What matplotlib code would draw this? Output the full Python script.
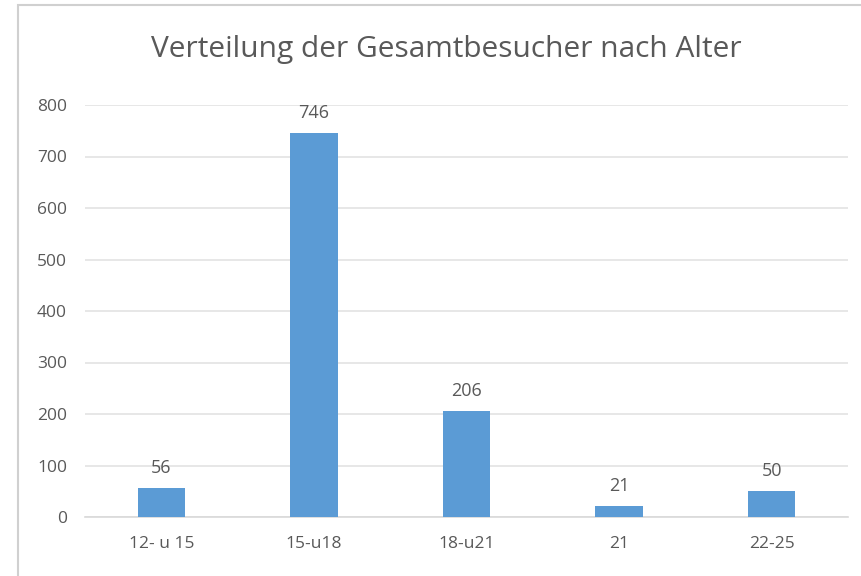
import matplotlib
matplotlib.use("Agg")
import matplotlib.pyplot as plt
from matplotlib.patches import Rectangle

categories = ["12- u 15", "15-u18", "18-u21", "21", "22-25"]
values = [56, 746, 206, 21, 50]
yticks = [0, 100, 200, 300, 400, 500, 600, 700, 800]
title = "Verteilung der Gesamtbesucher nach Alter"

plt.rcParams['font.family'] = ['Open Sans', 'DejaVu Sans']
text_color = "#595959"
bar_color = "#5B9BD5"

W, H = 861, 576
fig = plt.figure(figsize=(W/100, H/100), dpi=100)
fig.patch.set_facecolor("white")

# chart border
fig.add_artist(Rectangle((18/W, -0.01), 1.0, 1 - 5/H + 0.01, transform=fig.transFigure,
                         fill=False, edgecolor="#d0d0d0", linewidth=1.5))

ax = fig.add_axes([85/W, 1 - 517/H, (848-85)/W, (517-105)/H])
x = list(range(len(categories)))
bars = ax.bar(x, values, width=0.31, color=bar_color, zorder=3)
ax.set_xlim(-0.5, len(categories) - 0.5)
ax.set_ylim(0, 800)
ax.set_yticks(yticks)
ax.set_yticklabels([str(t) for t in yticks])
ax.set_xticks(x)
ax.set_xticklabels(categories)
ax.tick_params(axis='both', length=0, labelsize=12.5, colors=text_color)
ax.tick_params(axis='y', pad=13)
ax.tick_params(axis='x', pad=14)
ax.grid(axis='y', color="#e3e3e3", linewidth=1.2, zorder=0)
for s in ["top", "right", "left"]:
    ax.spines[s].set_visible(False)
ax.spines["bottom"].set_color("#d9d9d9")
ax.spines["bottom"].set_linewidth(1.2)

for xi, v in zip(x, values):
    ax.annotate(str(v), (xi, v), xytext=(0, 8), textcoords="offset points",
                ha="center", va="bottom", fontsize=13, color=text_color)

fig.text(446/W, 1 - 50/H, title, ha="center", va="center", fontsize=21.5, color=text_color)

fig.savefig("out.png", dpi=100)
